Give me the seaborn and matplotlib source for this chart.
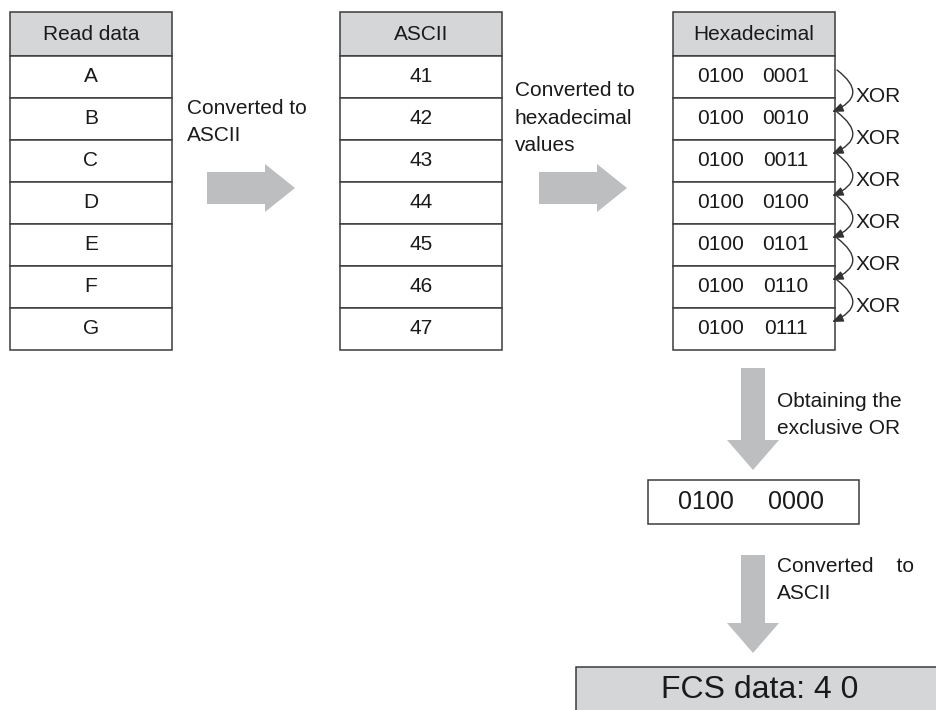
import matplotlib
matplotlib.use("Agg")
import matplotlib.pyplot as plt
import seaborn as sns
from matplotlib.patches import Rectangle, FancyArrow, FancyArrowPatch

# ---- data ----
read_data = ["A", "B", "C", "D", "E", "F", "G"]
ascii_codes = ["41", "42", "43", "44", "45", "46", "47"]
hex_values = ["0100 0001", "0100 0010", "0100 0011", "0100 0100",
              "0100 0101", "0100 0110", "0100 0111"]
headers = ["Read data", "ASCII", "Hexadecimal"]
xor_label = "XOR"
xor_result = ["0100", "0000"]
fcs_text = "FCS data: 4 0"
step_labels = ["Converted to\nASCII",
               "Converted to\nhexadecimal\nvalues",
               "Obtaining the\nexclusive OR",
               "Converted    to\nASCII"]

sns.set_theme(style="white")
plt.rcParams["font.family"] = ["Liberation Sans", "DejaVu Sans"]

W, H = 937, 710
fig = plt.figure(figsize=(W / 100, H / 100), dpi=100)
ax = fig.add_axes([0, 0, 1, 1])
ax.set_xlim(0, W)
ax.set_ylim(H, 0)
ax.axis("off")

EDGE = "#3c3c3c"
HEAD_FILL = "#d5d6d8"
ARROW = "#bdbec0"
TXT = "#1a1a1a"
FS = 15
LS = 1.55

top, head_bot, bot = 12, 56, 350
n = len(read_data)
row_h = (bot - head_bot) / n


def draw_table(x0, x1, header, items, split=False):
    ax.add_patch(Rectangle((x0, top), x1 - x0, head_bot - top,
                           facecolor=HEAD_FILL, edgecolor=EDGE, lw=1.1))
    ax.text((x0 + x1) / 2, (top + head_bot) / 2 + 1, header, ha="center",
            va="center", fontsize=FS, color=TXT)
    for i, it in enumerate(items):
        y0 = head_bot + i * row_h
        ax.add_patch(Rectangle((x0, y0), x1 - x0, row_h,
                               facecolor="white", edgecolor=EDGE, lw=1.1))
        yc = y0 + row_h / 2
        if split:
            a, b = it.split()
            ax.text(x0 + 48, yc - 1, a, ha="center", va="center",
                    fontsize=FS, color=TXT)
            ax.text(x0 + 113, yc - 1, b, ha="center", va="center",
                    fontsize=FS, color=TXT)
        else:
            ax.text((x0 + x1) / 2, yc, it, ha="center", va="center",
                    fontsize=FS, color=TXT)


draw_table(10, 172, headers[0], read_data)
draw_table(340, 502, headers[1], ascii_codes)
draw_table(673, 835, headers[2], hex_values, split=True)

# XOR arcs
centers = [head_bot + (i + 0.5) * row_h - 1 for i in range(n)]
for i in range(n - 1):
    ys, ye = centers[i] - 6, centers[i + 1] - 6
    arc = FancyArrowPatch((837, ys), (832, ye),
                          connectionstyle="arc3,rad=-0.85",
                          arrowstyle="-|>,head_length=0.55,head_width=0.22",
                          mutation_scale=12, color="#333333", lw=1.0,
                          shrinkA=0, shrinkB=0)
    ax.add_patch(arc)
    ax.text(856, (centers[i] + centers[i + 1]) / 2 - 1, xor_label,
            ha="left", va="center", fontsize=FS, color=TXT)

# block arrows
def harrow(x0, x1, yc):
    ax.add_patch(FancyArrow(x0, yc, x1 - x0, 0, width=32, head_width=48,
                            head_length=30, length_includes_head=True,
                            facecolor=ARROW, edgecolor="none"))


def varrow(xc, y0, y1):
    ax.add_patch(FancyArrow(xc, y0, 0, y1 - y0, width=24, head_width=52,
                            head_length=30, length_includes_head=True,
                            facecolor=ARROW, edgecolor="none"))


harrow(207, 295, 188)
harrow(539, 627, 188)
varrow(753, 368, 470)
varrow(753, 555, 653)

# step labels
ax.text(187, 122, step_labels[0], ha="left", va="center", fontsize=FS,
        color=TXT, linespacing=LS)
ax.text(515, 118, step_labels[1], ha="left", va="center", fontsize=FS,
        color=TXT, linespacing=LS)
ax.text(777, 415, step_labels[2], ha="left", va="center", fontsize=FS,
        color=TXT, linespacing=LS)
ax.text(777, 580, step_labels[3], ha="left", va="center", fontsize=FS,
        color=TXT, linespacing=LS)

# XOR result box
ax.add_patch(Rectangle((648, 480), 211, 44, facecolor="white",
                       edgecolor=EDGE, lw=1.1))
ax.text(706, 502, xor_result[0], ha="center", va="center", fontsize=18,
        color=TXT)
ax.text(796, 502, xor_result[1], ha="center", va="center", fontsize=18,
        color=TXT)

# FCS box
ax.add_patch(Rectangle((576, 667), 420, 80, facecolor=HEAD_FILL,
                       edgecolor=EDGE, lw=1.1))
ax.text(760, 690, fcs_text, ha="center", va="center", fontsize=23,
        color=TXT)

fig.savefig("out.png", dpi=100)
